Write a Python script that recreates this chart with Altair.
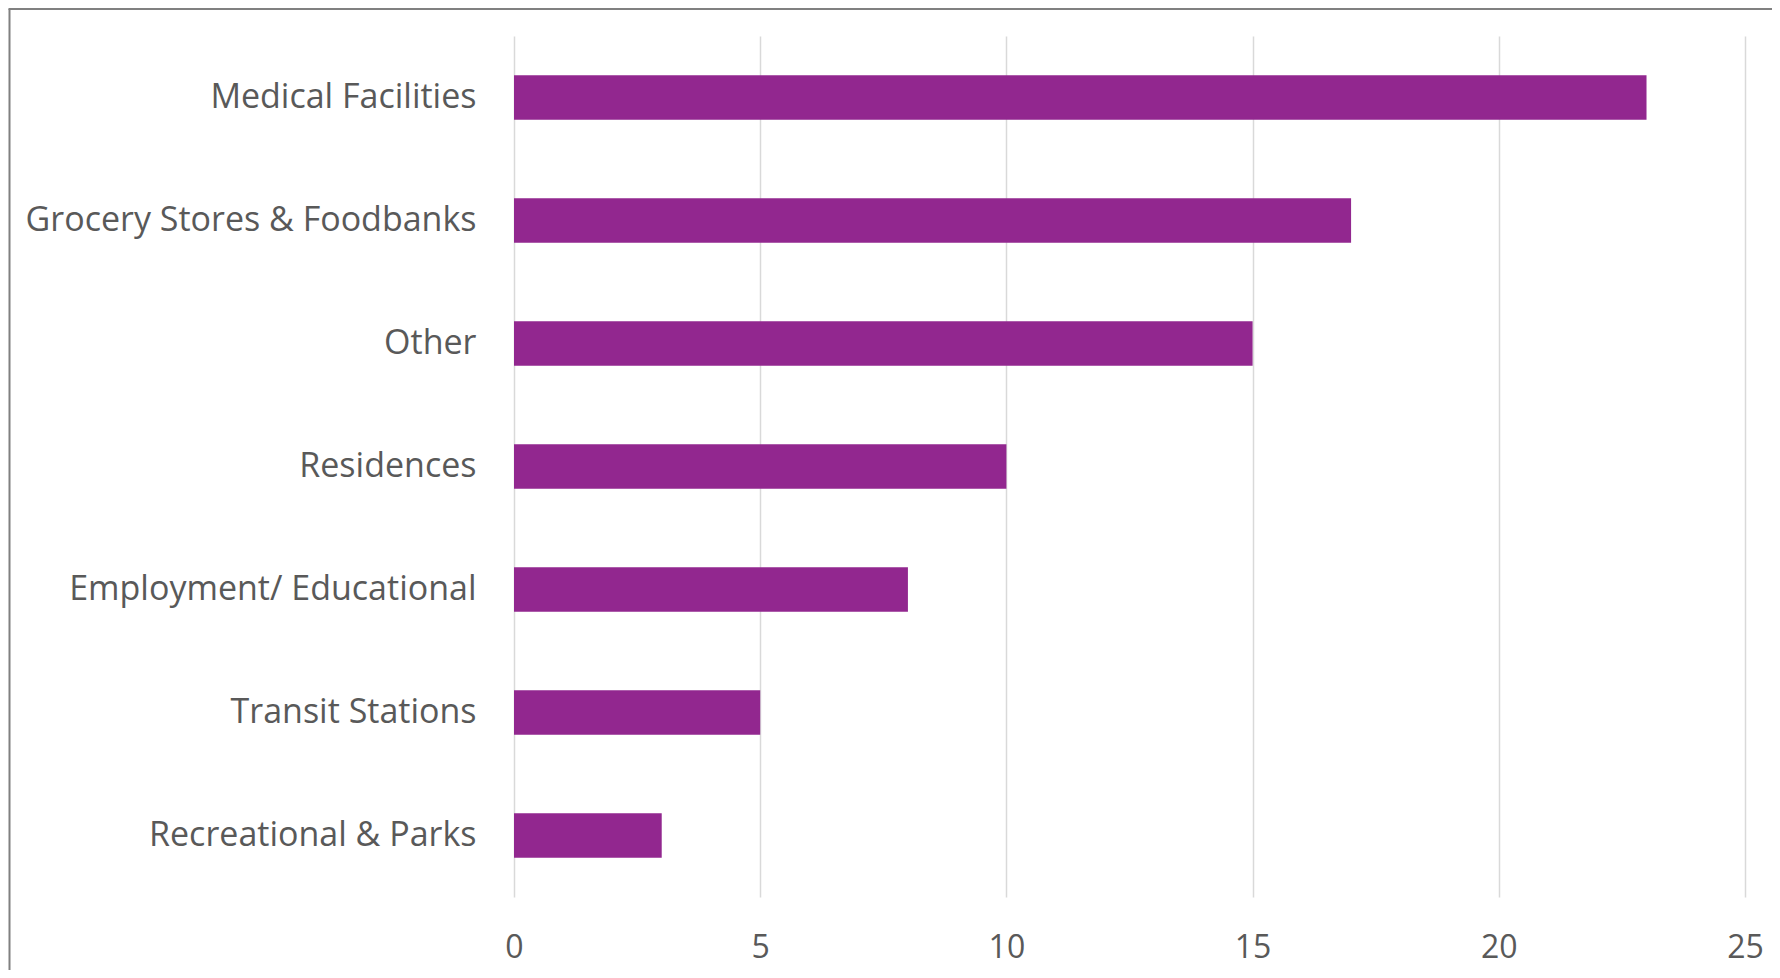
import altair as alt
import pandas as pd

categories = ["Medical Facilities", "Grocery Stores & Foodbanks", "Other", "Residences",
              "Employment/ Educational", "Transit Stations", "Recreational & Parks"]
values = [23, 17, 15, 10, 8, 5, 3]
x_ticks = [0, 5, 10, 15, 20, 25]

df = pd.DataFrame({"category": categories, "value": values})

TEXT = "#595959"
FONT = "Open Sans"

bars = alt.Chart(df).mark_bar(color="#92278F").encode(
    x=alt.X("value:Q",
            scale=alt.Scale(domain=[0, 25], nice=False),
            axis=alt.Axis(values=x_ticks, title=None, domain=False, ticks=False, tickSize=0,
                          grid=True, gridColor="#d9d9d9", gridWidth=1.5,
                          labelFont=FONT, labelFontSize=32, labelColor=TEXT,
                          labelFlush=False, labelBaseline="middle", labelPadding=50)),
    y=alt.Y("category:N", sort=categories,
            scale=alt.Scale(paddingInner=0.64, paddingOuter=0.32),
            axis=alt.Axis(title=None, domain=False, ticks=False, tickSize=0,
                          labelFont=FONT, labelFontSize=34, labelColor=TEXT,
                          labelPadding=38, labelLimit=600)),
)

frame_df = pd.DataFrame({"k": [0]})
left_border = alt.Chart(frame_df).mark_rule(color="#808080", strokeWidth=2).encode(
    x=alt.value(-504.5), y=alt.value(-27), y2=alt.value(960))
top_border = alt.Chart(frame_df).mark_rule(color="#808080", strokeWidth=2).encode(
    x=alt.value(-505.5), x2=alt.value(1260), y=alt.value(-27))

chart = alt.layer(bars, left_border, top_border).properties(
    width=1231, height=861,
    autosize=alt.AutoSizeParams(type="none"),
    padding={"left": 506, "top": 28, "right": 27, "bottom": 73},
    background="white",
).configure_view(stroke=None)

chart.save("out.html", embed_options={"renderer": "svg", "actions": False})
